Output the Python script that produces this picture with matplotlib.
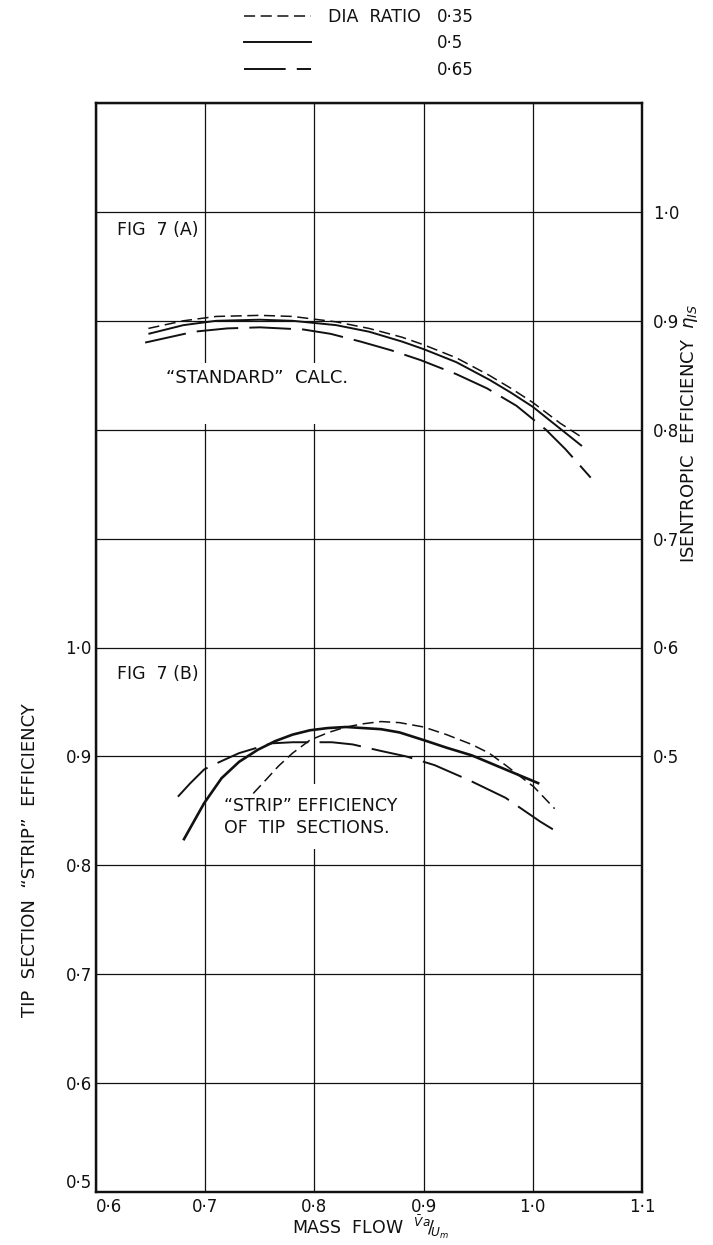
import matplotlib.pyplot as plt
from matplotlib.lines import Line2D

plt.rcParams['font.family'] = ['DejaVu Sans']
plt.rcParams['lines.scale_dashes'] = False

# axis ticks
x_ticks = [0.6, 0.7, 0.8, 0.9, 1.0, 1.1]
x_labels = ['0·6', '0·7', '0·8', '0·9', '1·0', '1·1']
left_ticks = [0.5, 0.6, 0.7, 0.8, 0.9, 1.0, 1.1, 1.2, 1.3, 1.4, 1.5]
left_labels = ['0·5', '0·6', '0·7', '0·8', '0·9', '1·0', '', '', '', '', '']
right_ticks = [0.5, 0.6, 0.7, 0.8, 0.9, 1.0]
right_labels = ['0·5', '0·6', '0·7', '0·8', '0·9', '1·0']

dia_ratios = ['0·35', '0·5', '0·65']

# fig 7(A): "standard" isentropic efficiency (right axis)
a_x_035 = [0.648, 0.68, 0.71, 0.75, 0.78, 0.82, 0.85, 0.88, 0.90, 0.93, 0.96, 0.98, 1.00, 1.025, 1.045]
a_y_035 = [0.893, 0.900, 0.904, 0.905, 0.904, 0.899, 0.893, 0.885, 0.878, 0.866, 0.850, 0.838, 0.825, 0.806, 0.793]
a_x_05 = [0.648, 0.68, 0.71, 0.75, 0.78, 0.82, 0.85, 0.88, 0.90, 0.93, 0.96, 0.98, 1.00, 1.025, 1.045]
a_y_05 = [0.888, 0.896, 0.900, 0.901, 0.900, 0.896, 0.890, 0.881, 0.874, 0.862, 0.846, 0.834, 0.821, 0.801, 0.785]
a_x_065 = [0.645, 0.69, 0.72, 0.75, 0.79, 0.815, 0.842, 0.87, 0.897, 0.93, 0.958, 0.985, 1.012, 1.03, 1.053]
a_y_065 = [0.880, 0.890, 0.893, 0.894, 0.892, 0.888, 0.881, 0.873, 0.864, 0.851, 0.838, 0.822, 0.800, 0.782, 0.756]

# fig 7(B): tip section strip efficiency (left axis)
b_x_035 = [0.744, 0.757, 0.767, 0.780, 0.796, 0.813, 0.829, 0.845, 0.861, 0.878, 0.900, 0.921, 0.944, 0.960, 0.975, 1.001, 1.020]
b_y_035 = [0.866, 0.880, 0.891, 0.903, 0.915, 0.922, 0.927, 0.930, 0.932, 0.931, 0.927, 0.920, 0.911, 0.903, 0.892, 0.872, 0.852]
b_x_05 = [0.680, 0.699, 0.715, 0.731, 0.748, 0.764, 0.780, 0.796, 0.812, 0.829, 0.845, 0.861, 0.878, 0.900, 0.921, 0.944, 0.975, 1.006]
b_y_05 = [0.823, 0.857, 0.880, 0.895, 0.906, 0.914, 0.920, 0.924, 0.926, 0.927, 0.926, 0.925, 0.922, 0.915, 0.908, 0.901, 0.888, 0.875]
b_x_065 = [0.675, 0.686, 0.699, 0.709, 0.731, 0.761, 0.780, 0.816, 0.835, 0.861, 0.884, 0.910, 0.942, 0.975, 1.007, 1.025]
b_y_065 = [0.863, 0.875, 0.888, 0.893, 0.903, 0.912, 0.913, 0.913, 0.911, 0.905, 0.900, 0.892, 0.878, 0.862, 0.840, 0.829]

ink = '#111111'
short_dash = (0, (8, 4))
long_dash = (0, (30, 8))
styles = [dict(ls=short_dash, lw=1.1), dict(ls='-', lw=1.4), dict(ls=long_dash, lw=1.4)]

fig = plt.figure(figsize=(7.13, 12.45), dpi=100)
ax = fig.add_axes([96 / 713, 53 / 1245, 546 / 713, 1089 / 1245])
ax.set_xlim(0.6, 1.1)
ax.set_ylim(0.5, 1.5)
ax.set_xticks(x_ticks, x_labels)
ax.set_yticks(left_ticks, left_labels)
ax.tick_params(length=0, labelsize=12, colors=ink)
ax.tick_params(axis='y', pad=3)
ax.tick_params(axis='x', pad=4)
ax.get_yticklabels()[0].set_va('bottom')
ax.get_xticklabels()[0].set_ha('left')
ax.grid(True, color=ink, lw=0.9)
ax.set_axisbelow(True)
for sp in ax.spines.values():
    sp.set_linewidth(1.6)
    sp.set_color(ink)

ax2 = ax.twinx()
ax2.set_ylim(0.1, 1.1)
ax2.set_yticks(right_ticks, right_labels)
ax2.tick_params(length=0, labelsize=12, colors=ink, pad=8)
for sp in ax2.spines.values():
    sp.set_linewidth(1.6)
    sp.set_color(ink)

# standard calculation curves
for xs, ys, st in zip([a_x_035, a_x_05, a_x_065], [a_y_035, a_y_05, a_y_065], styles):
    ax2.plot(xs, ys, color=ink, zorder=3, solid_capstyle='butt', dash_capstyle='butt', **st)

# strip efficiency curves
b_styles = [dict(ls=short_dash, lw=1.1), dict(ls='-', lw=1.9), dict(ls=long_dash, lw=1.4)]
for xs, ys, st in zip([b_x_035, b_x_05, b_x_065], [b_y_035, b_y_05, b_y_065], b_styles):
    ax.plot(xs, ys, color=ink, zorder=3, solid_capstyle='butt', dash_capstyle='butt', **st)

box = dict(facecolor='white', edgecolor='none', pad=2)
ax2.text(0.619, 0.983, 'FIG  7 (A)', fontsize=12.5, va='center', ha='left', color=ink, bbox=box, zorder=1.5)
ax2.text(0.664, 0.856, '“STANDARD”  CALC.\n', fontsize=13, va='top', ha='left', color=ink,
         linespacing=1.95, bbox=dict(facecolor='white', edgecolor='none', pad=4), zorder=1.5)
ax.text(0.619, 0.976, 'FIG  7 (B)', fontsize=12.5, va='center', ha='left', color=ink, bbox=box, zorder=1.5)
ax.text(0.717, 0.863, '“STRIP” EFFICIENCY\nOF  TIP  SECTIONS.', fontsize=12.5, va='top', ha='left',
        color=ink, linespacing=1.3, bbox=dict(facecolor='white', edgecolor='none', pad=9), zorder=1.5)

fig.text(30 / 713, 1 - 860 / 1245, 'TIP  SECTION  “STRIP”  EFFICIENCY', rotation=90,
         ha='center', va='center', fontsize=13, color=ink)
fig.text(690 / 713, 1 - 433 / 1245, r'ISENTROPIC  EFFICIENCY  $\eta_{IS}$', rotation=90,
         ha='center', va='center', fontsize=13, color=ink)
fig.text(292 / 713, 1 - 1227 / 1245, r'MASS  FLOW  $^{\bar{V}a}\!/\!_{U_m}$', ha='left', va='center',
         fontsize=12.5, color=ink)

# legend: line styles against diameter ratio
handles = [Line2D([], [], color=ink, **st) for st in styles]
fig.legend(handles, dia_ratios, loc='upper left', bbox_to_anchor=(244 / 713, 1 - 8 / 1245),
           frameon=False, fontsize=12, handlelength=4.0, handletextpad=7.6,
           labelspacing=0.5, borderpad=0, borderaxespad=0, labelcolor=ink)
fig.text(328 / 713, 1 - 17 / 1245, 'DIA  RATIO', ha='left', va='center', fontsize=12.5, color=ink)

fig.savefig('out.png', dpi=100, facecolor='white')
